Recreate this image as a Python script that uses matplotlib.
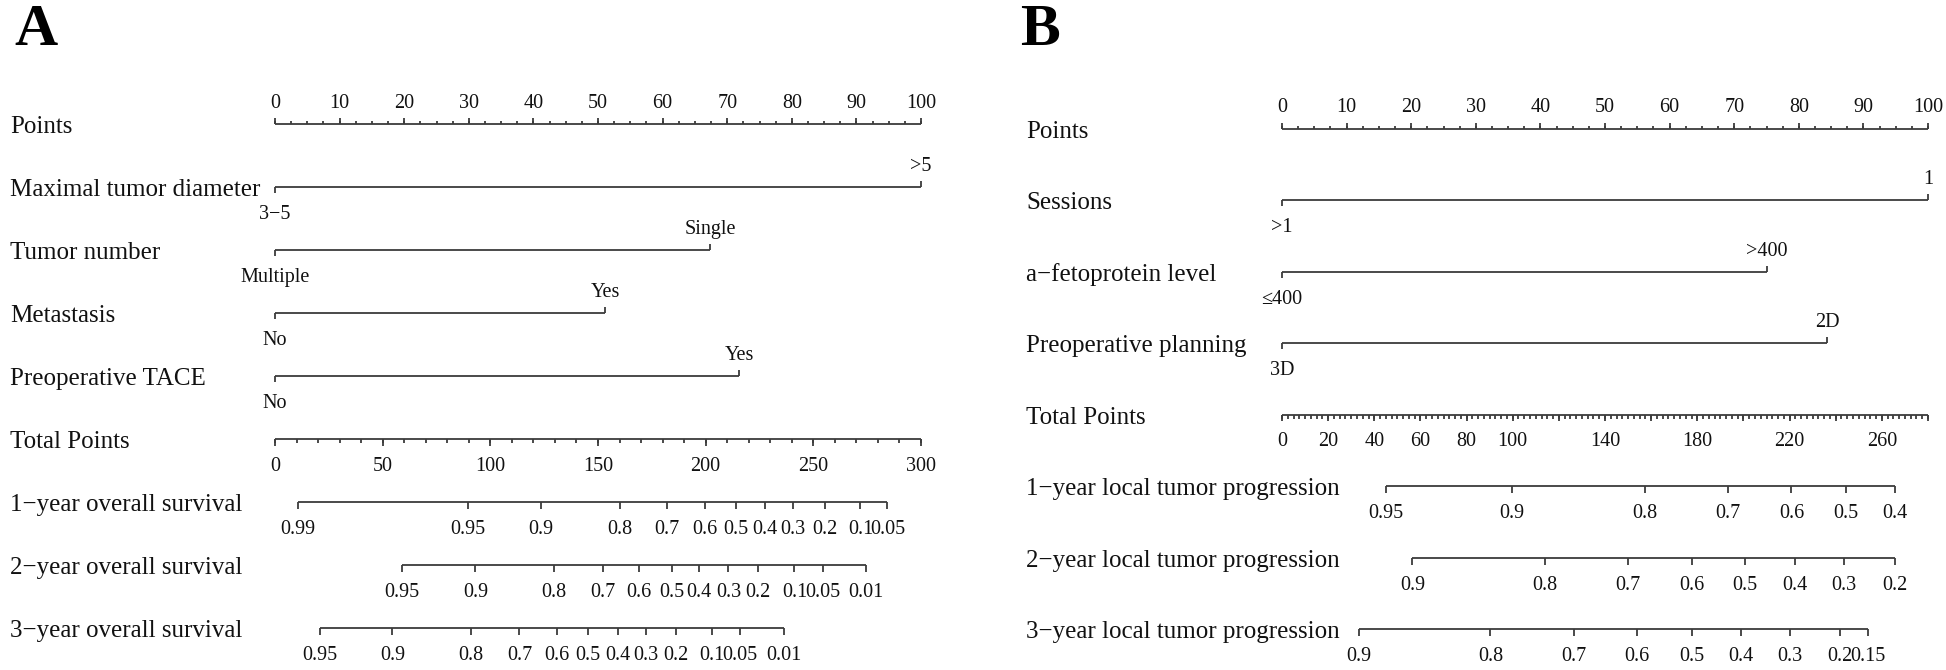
"""
Two nomograms (A: overall survival, B: local tumor progression)
"""

import matplotlib
matplotlib.use("Agg")
import matplotlib.pyplot as plt
import numpy as np
from matplotlib.transforms import blended_transform_factory

plt.rcParams["font.family"] = ["Liberation Serif", "DejaVu Serif", "DejaVu Sans"]

W, H, DPI = 1946, 670, 100

# ---------------- Panel A data ----------------
a_vars = ["Maximal tumor diameter", "Tumor number", "Metastasis", "Preoperative TACE"]
a_low = ["3−5", "Multiple", "No", "No"]
a_high = [">5", "Single", "Yes", "Yes"]
a_high_pts = [100, 67.4, 51.1, 71.9]

a_total_max = 300
a_total_major = [0, 50, 100, 150, 200, 250, 300]
a_total_labels = [0, 50, 100, 150, 200, 250, 300]
a_total_minor = 10

a_prob_names = ["1−year overall survival", "2−year overall survival", "3−year overall survival"]
a_surv1_p = [0.99, 0.95, 0.9, 0.8, 0.7, 0.6, 0.5, 0.4, 0.3, 0.2, 0.1, 0.05]
a_surv1_tot = [10.8, 89.4, 123.5, 160.1, 182.2, 199.8, 214.0, 227.6, 240.7, 255.4, 271.9, 284.4]
a_surv2_p = [0.95, 0.9, 0.8, 0.7, 0.6, 0.5, 0.4, 0.3, 0.2, 0.1, 0.05, 0.01]
a_surv2_tot = [58.8, 93.1, 129.4, 152.1, 169.2, 184.2, 197.0, 210.6, 224.2, 241.2, 254.3, 274.4]
a_surv3_p = [0.95, 0.9, 0.8, 0.7, 0.6, 0.5, 0.4, 0.3, 0.2, 0.1, 0.05, 0.01]
a_surv3_tot = [20.7, 54.5, 91.1, 113.5, 130.8, 145.3, 159.2, 172.3, 186.2, 202.9, 216.0, 236.4]

# ---------------- Panel B data ----------------
b_vars = ["Sessions", "a−fetoprotein level", "Preoperative planning"]
b_low = [">1", "≤400", "3D"]
b_high = ["1", ">400", "2D"]
b_high_pts = [100, 75.0, 84.4]

b_total_max = 280
b_total_major = [0, 20, 40, 60, 80, 100, 120, 140, 160, 180, 200, 220, 240, 260, 280]
b_total_labels = [0, 20, 40, 60, 80, 100, 140, 180, 220, 260]
b_total_minor = 2.5

b_prob_names = ["1−year local tumor progression", "2−year local tumor progression",
                "3−year local tumor progression"]
b_ltp1_p = [0.95, 0.9, 0.8, 0.7, 0.6, 0.5, 0.4]
b_ltp1_tot = [44.9, 99.8, 157.2, 193.4, 220.8, 244.3, 265.5]
b_ltp2_p = [0.9, 0.8, 0.7, 0.6, 0.5, 0.4, 0.3, 0.2]
b_ltp2_tot = [56.5, 114.1, 150.0, 177.8, 200.8, 222.4, 243.5, 265.5]
b_ltp3_p = [0.9, 0.8, 0.7, 0.6, 0.5, 0.4, 0.3, 0.2, 0.15]
b_ltp3_tot = [33.5, 90.3, 126.5, 154.0, 177.8, 198.9, 220.0, 241.7, 253.8]

points_major = np.arange(0, 101, 10)
points_minor = np.arange(0, 100.1, 2.5)

LINE = "#3c3c3c"
TXT = "#111111"
FS_ROW = 18
FS_TICK = 14.5


def draw_nomogram(fig, x0_px, x100_px, row0_px, step_px, label_x_px, letter,
                  var_names, low_labels, high_labels, high_pts,
                  total_max, total_major, total_labels, total_minor,
                  prob_names, prob_vals, prob_tots):
    ax = fig.add_axes([x0_px / W, 0, (x100_px - x0_px) / W, 1])
    ax.set_xlim(0, 100)
    ax.set_ylim((H - row0_px) / step_px, -row0_px / step_px)
    ax.axis("off")
    px = 1.0 / step_px  # one pixel in row units
    lab_tr = blended_transform_factory(fig.transFigure, ax.transData)
    kw_line = dict(color=LINE, lw=1.3, clip_on=False)

    names = ["Points"] + var_names + ["Total Points"] + prob_names
    for i, name in enumerate(names):
        ax.text(label_x_px / W, i + 9 * px, name, transform=lab_tr, fontsize=FS_ROW,
                ha="left", va="baseline", color=TXT)

    # Points scale (ticks up, labels above)
    ax.hlines(0, 0, 100, **kw_line)
    ax.vlines(points_minor, 0, -3 * px, **kw_line)
    ax.vlines(points_major, 0, -6 * px, **kw_line)
    for v in points_major:
        ax.text(v, -16 * px, f"{v:g}", fontsize=FS_TICK, ha="center", va="baseline", color=TXT)

    # categorical predictors
    for j, (lo, hi, hp) in enumerate(zip(low_labels, high_labels, high_pts)):
        r = j + 1
        ax.hlines(r, 0, hp, **kw_line)
        ax.vlines(0, r, r + 6 * px, **kw_line)
        ax.vlines(hp, r, r - 6 * px, **kw_line)
        ax.text(0, r + 32 * px, lo, fontsize=FS_TICK, ha="center", va="baseline", color=TXT)
        ax.text(hp, r - 16 * px, hi, fontsize=FS_TICK, ha="center", va="baseline", color=TXT)

    # Total points scale
    r = len(var_names) + 1
    sc = 100.0 / total_max
    ax.hlines(r, 0, 100, **kw_line)
    minor = np.arange(0, total_max + 0.01, total_minor)
    ax.vlines(minor * sc, r, r + 4 * px, **kw_line)
    ax.vlines(np.array(total_major) * sc, r, r + 7 * px, **kw_line)
    for v in total_labels:
        ax.text(v * sc, r + 32 * px, f"{v:g}", fontsize=FS_TICK, ha="center", va="baseline",
                color=TXT)

    # probability scales
    for k, (pv, tv) in enumerate(zip(prob_vals, prob_tots)):
        rr = r + 1 + k
        xs = np.array(tv) * sc
        ax.hlines(rr, xs.min(), xs.max(), **kw_line)
        ax.vlines(xs, rr, rr + 7 * px, **kw_line)
        for p, x in zip(pv, xs):
            ax.text(x, rr + 32 * px, f"{p:g}", fontsize=FS_TICK, ha="center", va="baseline",
                    color=TXT)

    fig.text(letter[1] / W, 1 - 45 / H, letter[0], fontsize=43, fontweight="bold",
             ha="left", va="baseline", color="black")
    return ax


fig = plt.figure(figsize=(W / DPI, H / DPI), dpi=DPI)
fig.patch.set_facecolor("white")

draw_nomogram(fig, 275, 921, 124, 63, 10, ("A", 14),
              a_vars, a_low, a_high, a_high_pts,
              a_total_max, a_total_major, a_total_labels, a_total_minor,
              a_prob_names, [a_surv1_p, a_surv2_p, a_surv3_p],
              [a_surv1_tot, a_surv2_tot, a_surv3_tot])

draw_nomogram(fig, 1282, 1928, 128.5, 71.5, 1026, ("B", 1020),
              b_vars, b_low, b_high, b_high_pts,
              b_total_max, b_total_major, b_total_labels, b_total_minor,
              b_prob_names, [b_ltp1_p, b_ltp2_p, b_ltp3_p],
              [b_ltp1_tot, b_ltp2_tot, b_ltp3_tot])

fig.savefig("out.png", dpi=DPI, facecolor="white")
